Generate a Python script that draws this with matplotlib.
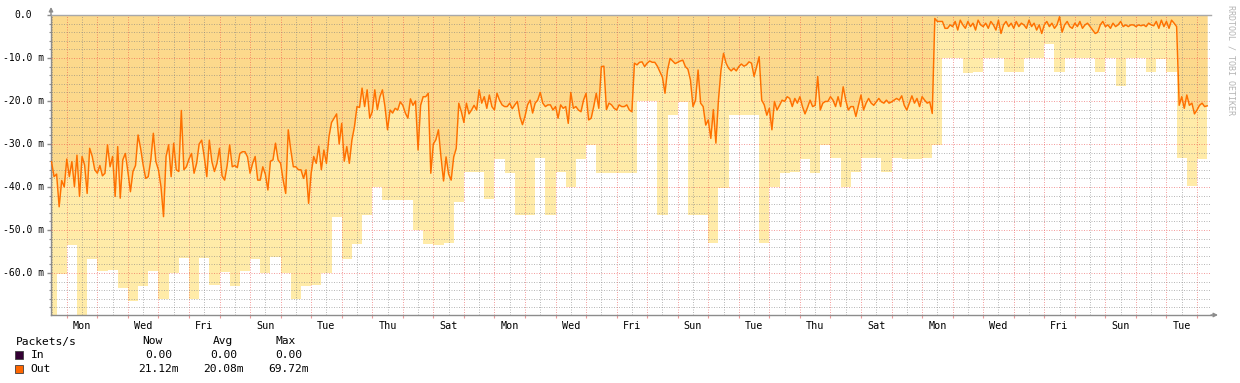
import matplotlib
matplotlib.use("Agg")
import matplotlib.pyplot as plt
from matplotlib.patches import Rectangle
import numpy as np

# Out packets/s (shown negative), one sample every 2 hours, hour 0 = first Monday 00:00
out_lead = [-34.1, -37.6, -37.0, -44.6, -38.5, -40.0]
out_w1 = [
    -33.5, -37.6, -34.1, -39.9, -32.6, -42.2, -32.9, -34.9, -41.5, -31.0, -32.9, -36.0,
    -36.8, -35.0, -37.4, -36.8, -30.2, -35.3, -32.9, -42.2, -30.6, -42.6, -33.7, -32.2,
    -36.4, -41.1, -36.4, -35.0, -27.9, -31.0, -34.9, -38.0, -37.6, -33.7, -27.5, -34.1,
    -36.0, -39.9, -46.9, -32.9, -30.2, -37.6, -29.8, -36.0, -36.4, -22.2, -36.0, -35.3,
    -33.5, -32.2, -36.8, -34.5, -30.0, -29.1, -33.0, -37.6, -29.1, -34.1, -36.4, -34.5,
    -31.0, -37.4, -38.4, -35.0, -30.2, -35.3, -35.0, -35.5, -32.2, -31.8, -31.8, -33.0,
    -36.8, -34.5, -32.9, -38.4, -38.4, -35.3, -37.0, -40.7, -34.0, -33.7, -29.8, -33.7,
]
out_w2 = [
    -34.5, -38.4, -41.5, -26.7, -31.4, -35.3, -35.3, -36.0, -36.0, -38.0, -36.0, -43.8,
    -36.8, -32.9, -34.5, -30.5, -36.0, -31.4, -34.5, -28.3, -25.0, -24.0, -23.0, -30.0,
    -25.2, -34.0, -30.6, -34.5, -29.1, -26.0, -21.3, -21.5, -17.0, -21.3, -17.4, -24.0,
    -22.5, -17.4, -22.0, -19.0, -17.4, -21.3, -26.7, -22.1, -22.8, -21.7, -22.1, -20.2,
    -21.0, -22.8, -24.0, -19.5, -21.0, -20.0, -31.4, -21.0, -19.0, -19.0, -18.2, -36.8,
    -30.0, -29.0, -26.7, -33.0, -38.6, -33.0, -37.0, -38.4, -33.0, -31.0, -20.5, -22.5,
    -25.0, -20.5, -23.0, -22.1, -21.0, -22.1, -17.4, -20.5, -19.0, -21.7, -18.6, -21.3,
]
out_w3 = [
    -22.1, -18.2, -19.8, -20.9, -21.3, -21.3, -20.5, -21.8, -20.9, -20.1, -23.6, -25.5,
    -23.6, -20.9, -19.8, -22.8, -20.5, -19.8, -18.0, -20.5, -21.3, -20.9, -20.9, -22.1,
    -21.3, -24.0, -20.9, -21.7, -21.3, -25.2, -18.0, -21.7, -21.3, -22.1, -22.5, -19.8,
    -18.2, -24.4, -24.0, -21.3, -18.2, -21.7, -12.0, -11.9, -22.0, -20.5, -20.9, -21.7,
    -22.1, -20.9, -21.3, -21.3, -20.9, -22.1, -22.5, -11.2, -11.6, -11.0, -10.9, -12.0,
    -11.2, -10.7, -11.0, -11.0, -11.9, -13.2, -14.5, -18.2, -12.8, -10.1, -10.7, -11.3,
    -11.0, -10.7, -10.5, -12.0, -12.6, -15.1, -21.3, -19.8, -12.8, -20.5, -21.3, -25.6,
]
out_w4 = [
    -24.4, -28.7, -22.0, -29.8, -19.8, -12.8, -8.9, -11.2, -12.4, -13.0, -12.4, -13.0,
    -12.0, -11.4, -11.9, -11.6, -10.9, -11.2, -14.3, -12.0, -9.7, -19.8, -20.9, -23.3,
    -21.7, -26.7, -20.1, -22.1, -21.0, -19.8, -20.1, -19.0, -19.4, -21.3, -19.4, -20.5,
    -19.0, -21.3, -23.0, -21.5, -19.8, -21.3, -21.0, -14.3, -22.1, -20.5, -20.1, -20.1,
    -19.0, -19.8, -21.3, -19.0, -21.3, -16.7, -19.8, -22.1, -21.3, -21.3, -23.6, -21.0,
    -18.6, -22.1, -20.5, -19.4, -20.5, -21.0, -20.2, -19.4, -20.2, -20.5, -19.8, -20.5,
    -20.2, -19.8, -19.4, -19.8, -18.8, -21.0, -22.1, -20.5, -18.8, -20.5, -19.4, -21.3,
]
out_w5 = [
    -19.0, -19.8, -20.5, -20.2, -22.9, -0.8, -1.5, -1.5, -1.5, -3.1, -3.1, -2.3,
    -2.7, -1.5, -3.5, -1.2, -2.3, -3.1, -1.5, -2.7, -1.9, -3.5, -1.2, -2.3,
    -2.7, -1.9, -3.1, -1.5, -2.3, -3.5, -1.2, -4.3, -2.3, -1.5, -2.7, -1.9,
    -3.1, -1.5, -2.7, -1.9, -2.3, -3.1, -1.2, -2.7, -1.9, -3.5, -2.3, -4.3,
    -2.3, -1.5, -2.7, -1.9, -3.1, -2.3, -0.4, -4.0, -2.3, -1.5, -2.7, -3.1,
    -1.9, -2.7, -1.5, -3.1, -2.3, -1.9, -2.7, -3.5, -4.3, -4.0, -2.3, -1.5,
    -2.7, -2.3, -3.1, -1.9, -2.7, -2.3, -1.5, -2.7, -2.3, -2.7, -2.3, -2.3,
]
out_w6 = [
    -2.7, -2.3, -2.5, -2.3, -2.7, -1.9, -2.3, -2.5, -1.5, -3.1, -1.2, -2.7,
    -1.5, -3.1, -1.2, -1.9, -2.7, -21.0, -19.0, -21.7, -18.6, -21.0, -20.5, -23.0,
    -22.1, -21.0, -20.5, -21.3, -21.12,
]

# 8-hour maximum of out packets/s (shown negative), first bin starts at hour -16
out_max_8h = [
    -69.72, -60.2, -53.5, -69.72, -56.7, -59.5, -59.3, -63.4, -66.4, -63.0,
    -59.5, -66.1, -60.1, -56.4, -66.1, -56.5, -62.8, -59.7, -63.0, -59.5,
    -56.7, -59.9, -56.3, -60.1, -66.0, -63.0, -62.8, -60.1, -47.0, -56.7,
    -53.3, -46.5, -40.1, -43.0, -43.0, -43.0, -50.0, -53.3, -53.5, -53.0,
    -43.4, -36.6, -36.6, -42.9, -33.6, -36.8, -46.4, -46.4, -33.2, -46.4,
    -36.6, -39.9, -33.6, -30.2, -36.7, -36.8, -36.7, -36.7, -20.0, -20.0,
    -46.4, -23.3, -20.2, -46.5, -46.5, -53.0, -40.2, -23.3, -23.3, -23.3,
    -53.0, -39.9, -36.7, -36.4, -33.6, -36.7, -30.2, -33.2, -39.9, -36.4,
    -33.2, -33.2, -36.4, -33.2, -33.6, -33.6, -33.2, -30.2, -10.1, -10.1,
    -13.4, -13.2, -10.1, -10.1, -13.2, -13.2, -10.1, -10.1, -6.7, -13.2,
    -10.1, -10.1, -10.1, -13.2, -10.1, -16.4, -10.1, -10.1, -13.2, -10.3,
    -13.2, -33.2, -39.7, -33.5,
]

day_labels = ["Mon", "Wed", "Fri", "Sun", "Tue", "Thu", "Sat", "Mon", "Wed", "Fri",
              "Sun", "Tue", "Thu", "Sat", "Mon", "Wed", "Fri", "Sun", "Tue"]
y_labels = ["0.0", "-10.0 m", "-20.0 m", "-30.0 m", "-40.0 m", "-50.0 m", "-60.0 m"]
y_label_vals = [0, -10, -20, -30, -40, -50, -60]

legend_rows = ["In", "Out"]
legend_now = ["0.00", "21.12m"]
legend_avg = ["0.00", "20.08m"]
legend_max = ["0.00", "69.72m"]

C_MAX = "#FFEBA8"
C_AVG = "#FCD98C"
C_LINE = "#FF7000"
C_IN = "#330033"
C_OUT = "#FF6600"
C_AXIS = "#8C8C8C"
GRID_MINOR = (0.50, 0.50, 0.50, 0.55)
GRID_MAJOR = (0.92, 0.25, 0.25, 0.50)
MONO = "DejaVu Sans Mono"

out_vals = np.array(out_lead + out_w1 + out_w2 + out_w3 + out_w4 + out_w5 + out_w6)
hours = np.arange(len(out_vals)) * 2 - 12
max_vals = np.array(out_max_8h)
edges = np.arange(len(max_vals) + 1) * 8 - 16

W, H = 1240, 383
fig = plt.figure(figsize=(W / 100, H / 100), dpi=100)
fig.patch.set_facecolor("white")
ax = fig.add_axes([51 / W, 68 / H, 1160 / W, 300 / H])
x_lo, x_hi = -12.4, 899
y_lo = -69.77
ax.set_xlim(x_lo, x_hi)
ax.set_ylim(y_lo, 0)

# areas: 8h max in light yellow, average in darker orange
ax.fill_between(edges, np.append(max_vals, max_vals[-1]), 0, step="post",
                color=C_MAX, lw=0, zorder=1)
ax.fill_between(hours, out_vals, 0, color=C_AVG, lw=0, zorder=2)

# dotted grid
dots = (0, (1, 1.5))
noon = np.arange(-12, x_hi, 24)
midnight = np.arange(0, x_hi, 24)
grid_kw = dict(linestyles=dots, lw=0.72, zorder=3, snap=True)
ax.vlines(noon, y_lo, 0, colors=[GRID_MINOR], **grid_kw)
ax.vlines(midnight, y_lo, 0, colors=[GRID_MAJOR], **grid_kw)
minor_y = [v for v in np.arange(-68, 0, 2) if v % 10 != 0]
ax.hlines(minor_y, x_lo, x_hi, colors=[GRID_MINOR], **grid_kw)
ax.hlines(np.arange(-60, 0, 10), x_lo, x_hi, colors=[GRID_MAJOR], **grid_kw)

ax.plot(hours, out_vals, color=C_LINE, lw=1.05, zorder=4)

ax.spines["right"].set_visible(False)
for side in ["left", "bottom", "top"]:
    ax.spines[side].set_color(C_AXIS)
    ax.spines[side].set_linewidth(1)
ax.spines["top"].set_color("#A8A8A8")
ax.set_facecolor("white")

# axis arrows
arrow_kw = dict(arrowstyle="-|>", color=C_AXIS, lw=1, mutation_scale=6, shrinkA=0, shrinkB=0)
ax.annotate("", xy=(0, 1 + 8 / 300), xytext=(0, 1), xycoords="axes fraction",
            arrowprops=arrow_kw)
ax.annotate("", xy=(1 + 7 / 1160, 0), xytext=(1, 0), xycoords="axes fraction",
            arrowprops=arrow_kw)

# ticks
ax.set_yticks(y_label_vals)
ax.set_yticklabels([])
ax.set_yticks(np.arange(-68, 0, 2), minor=True)
ax.tick_params(axis="y", which="major", length=3, color=C_AXIS, width=1)
ax.tick_params(axis="y", which="minor", length=1.5, color=C_AXIS, width=0.8)
label_hours = np.arange(len(day_labels)) * 48 + 12
ax.set_xticks(label_hours)
ax.set_xticklabels(day_labels, fontfamily=MONO, fontsize=7.3)
ax.set_xticks(midnight, minor=True)
ax.tick_params(axis="x", which="major", length=0, pad=4.5, labelcolor="#000000")
ax.tick_params(axis="x", which="minor", length=2.5, color=(0.92, 0.6, 0.6), width=0.8)

for lab, v in zip(y_labels, y_label_vals):
    off = -14 if v == 0 else -5
    ax.annotate(lab, xy=(0, v), xycoords=("axes fraction", "data"), xytext=(off, 0),
                textcoords="offset points", ha="right", va="center",
                fontfamily=MONO, fontsize=7, color="#000000")

fig.text(1231.5 / W, 1 - 5 / H, "RRDTOOL / TOBI OETIKER", rotation=270, ha="center",
         va="top", fontfamily=MONO, fontsize=6, color="#B4B4B4")


# legend block
def fy(y):
    return 1 - y / H


fig.text(16 / W, fy(341.5), "Packets/s", fontfamily=MONO, fontsize=8.1, va="center")
for x, txt in zip([152.7, 222.8, 285.5], ["Now", "Avg", "Max"]):
    fig.text(x / W, fy(341.5), txt, fontfamily=MONO, fontsize=8.1, va="center", ha="center")
row_y = [355, 369]
row_col = [C_IN, C_OUT]
for i, name in enumerate(legend_rows):
    y = row_y[i]
    fig.patches.append(Rectangle((15 / W, fy(y + 4)), 8 / W, 8 / H, transform=fig.transFigure,
                                 facecolor=row_col[i], edgecolor="#404040", lw=0.6))
    fig.text(30.7 / W, fy(y), name, fontfamily=MONO, fontsize=8.1, va="center")
    shift = 0 if legend_now[i].endswith("m") else 6
    for x, vals in zip([178.3, 243.3, 308.3], [legend_now, legend_avg, legend_max]):
        fig.text((x - shift) / W, fy(y), vals[i], fontfamily=MONO, fontsize=8.1,
                 va="center", ha="right")

fig.savefig("out.png", dpi=100, facecolor="white")
